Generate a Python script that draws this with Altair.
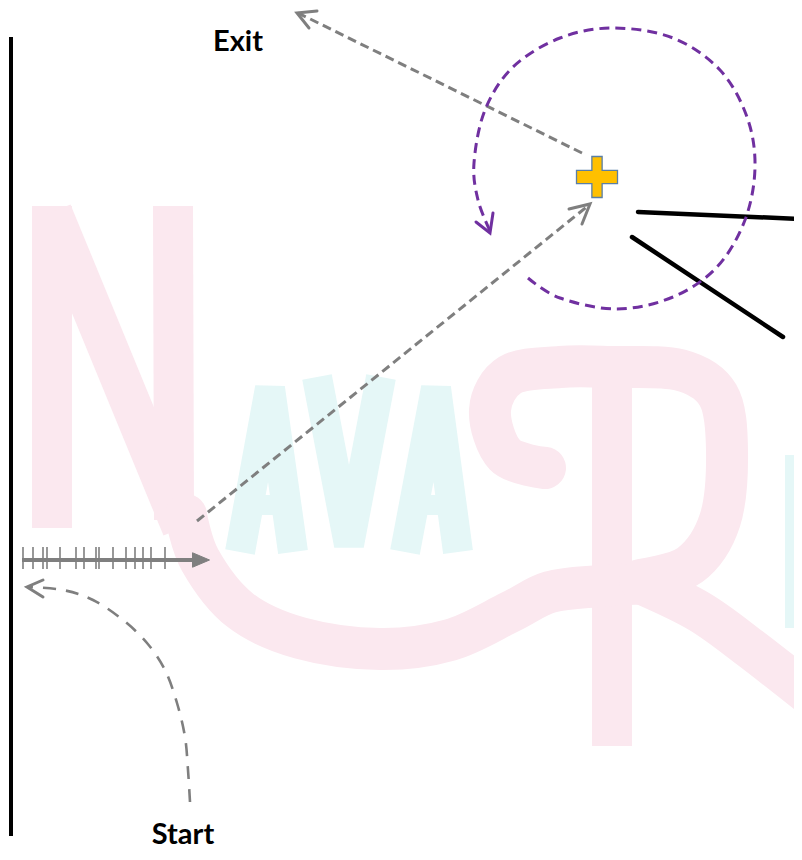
import altair as alt
import pandas as pd

# ---------------- data (positions, in its pixel space) ----------------
# wall
wall_x = [11, 11]
wall_y = [37, 836]

# horizontal ruler arrow with ticks
ruler_x = [22, 195]
ruler_y = [560, 560]
tick_x = [23, 33, 43, 47, 60, 76, 84, 96, 99, 113, 126, 135, 143, 151, 165]
tick_top = [547] * len(tick_x)
tick_bottom = [569] * len(tick_x)
ruler_head_x = [201]
ruler_head_y = [560]

# dashed path from the ruler towards the cross
path_in_x = [197, 589]
path_in_y = [521, 205]
head_in_x = [569, 590, 582]
head_in_y = [209, 204, 224]

# dashed exit path
path_exit_x = [582, 298]
path_exit_y = [153, 13]
head_exit_x = [317, 297, 309]
head_exit_y = [11, 13, 28]

# dashed start curve
start_x = [190, 188, 185, 177, 165, 147, 123, 93, 63, 28]
start_y = [802, 770, 737, 703, 670, 643, 620, 600, 590, 587]
head_start_x = [43, 27, 43]
head_start_y = [580, 587, 597]

# purple rotation arc
arc_x = [528, 560, 617, 673, 717, 745, 755, 747, 720, 673, 613, 560, 513, 485, 474, 478, 490]
arc_y = [278, 298, 309, 297, 267, 220, 167, 117, 70, 38, 28, 38, 67, 110, 163, 200, 231]
head_arc_x = [476, 490, 493]
head_arc_y = [222, 233, 213]

# black lines at right
black_a_x = [638, 802]
black_a_y = [212, 219]
black_b_x = [632, 783]
black_b_y = [237, 337]

# cross marker
cross_x = [597]
cross_y = [177]

# labels
label_text = ["Exit", "Start"]
label_x = [238, 183]
label_y = [51, 844]

# faint watermark strokes
wm_n_stem1_x = [52, 52]
wm_n_stem1_y = [206, 528]
wm_n_diag_x = [52, 182]
wm_n_diag_y = [212, 528]
wm_n_stem2_x = [173, 174]
wm_n_stem2_y = [206, 520]
wm_swash_x = [186, 200, 240, 300, 380, 450, 510, 550, 600, 650]
wm_swash_y = [515, 560, 610, 638, 649, 640, 612, 592, 586, 583]
wm_r_stem_x = [612, 612]
wm_r_stem_y = [379, 746]
wm_r_bowl_x = [545, 505, 490, 510, 560, 612, 680, 718, 727, 720, 690, 640]
wm_r_bowl_y = [468, 455, 410, 375, 367, 367, 370, 395, 450, 520, 565, 580]
wm_r_leg_x = [645, 700, 750, 810]
wm_r_leg_y = [585, 612, 648, 695]
wm_a1_x = [240, 270, 293]
wm_a1_y = [552, 388, 552]
wm_a1_bar_x = [248, 287]
wm_a1_bar_y = [505, 505]
wm_v_x = [317, 349, 381]
wm_v_y = [377, 545, 377]
wm_a2_x = [405, 436, 458]
wm_a2_y = [552, 388, 552]
wm_a2_bar_x = [414, 452]
wm_a2_bar_y = [505, 505]
wm_i_x = [800, 800]
wm_i_y = [455, 628]

# ---------------- helpers ----------------
def frame(*paths):
    rows = []
    for name, xs, ys in paths:
        for i, (x, y) in enumerate(zip(xs, ys)):
            rows.append({"id": name, "i": i, "x": x, "y": y})
    return pd.DataFrame(rows)

# the page keeps an 8px margin, so the plot shows reference pixels 8..794 / 8..852
XS = alt.Scale(domain=[8, 794], nice=False, zero=False)
YS = alt.Scale(domain=[8, 852], nice=False, zero=False, reverse=True)
X = alt.X("x:Q", scale=XS, axis=None)
Y = alt.Y("y:Q", scale=YS, axis=None)


def lines(df, color, width, dash=None, interp=None, cap="round", join="round"):
    kw = dict(color=color, strokeWidth=width, strokeCap=cap, strokeJoin=join, clip=True)
    if dash is not None:
        kw["strokeDash"] = dash
    if interp is not None:
        kw["interpolate"] = interp
    return alt.Chart(df).mark_line(**kw).encode(
        x=X, y=Y, detail="id:N", order="i:Q"
    )


PINK = "#fbe8ef"
CYAN = "#e5f7f7"
GRAY = "#7f7f7f"
PURPLE = "#7030a0"

# watermark
wm_pink_straight = lines(
    frame(("s1", wm_n_stem1_x, wm_n_stem1_y),
          ("d", wm_n_diag_x, wm_n_diag_y),
          ("s2", wm_n_stem2_x, wm_n_stem2_y),
          ("rs", wm_r_stem_x, wm_r_stem_y)),
    PINK, 40, cap="butt", join="miter")
wm_pink_curves = lines(
    frame(("sw", wm_swash_x, wm_swash_y),
          ("bowl", wm_r_bowl_x, wm_r_bowl_y),
          ("leg", wm_r_leg_x, wm_r_leg_y)),
    PINK, 42, interp="cardinal")
wm_cyan = lines(
    frame(("a1", wm_a1_x, wm_a1_y),
          ("v", wm_v_x, wm_v_y),
          ("a2", wm_a2_x, wm_a2_y),
          ("i", wm_i_x, wm_i_y)),
    CYAN, 30, cap="butt", join="bevel")
wm_cyan_bars = lines(
    frame(("b1", wm_a1_bar_x, wm_a1_bar_y),
          ("b2", wm_a2_bar_x, wm_a2_bar_y)),
    CYAN, 20, cap="butt")

# black structure
wall = lines(frame(("wall", wall_x, wall_y)), "#000000", 4, cap="butt")
blacks = lines(frame(("a", black_a_x, black_a_y), ("b", black_b_x, black_b_y)),
               "#000000", 4.5)

# ruler
ruler = lines(frame(("r", ruler_x, ruler_y)), GRAY, 4, cap="butt")
ticks_df = pd.DataFrame({"x": tick_x, "y": tick_top, "y2": tick_bottom})
ticks = alt.Chart(ticks_df).mark_rule(color=GRAY, strokeWidth=1.6).encode(
    x=X, y=Y, y2="y2:Q"
)
ruler_head = alt.Chart(pd.DataFrame({"x": ruler_head_x, "y": ruler_head_y})).mark_point(
    shape="M1,0 L-1,-0.85 L-1,0.85 Z", size=289, filled=True, fill=GRAY,
    stroke=GRAY, strokeWidth=1, opacity=1
).encode(x=X, y=Y)

# dashed gray paths
gray_dashed = lines(
    frame(("in", path_in_x, path_in_y), ("exit", path_exit_x, path_exit_y)),
    GRAY, 3, dash=[9, 5], cap="butt")
start_curve = lines(frame(("start", start_x, start_y)), GRAY, 2.6,
                    dash=[13, 10], interp="cardinal", cap="butt")
gray_heads = lines(
    frame(("h1", head_in_x, head_in_y), ("h2", head_exit_x, head_exit_y),
          ("h3", head_start_x, head_start_y)),
    GRAY, 3, join="miter")

# purple arc
arc = lines(frame(("arc", arc_x, arc_y)), PURPLE, 3, dash=[10, 6],
            interp="cardinal", cap="butt")
arc_head = lines(frame(("ah", head_arc_x, head_arc_y)), PURPLE, 3, join="miter")

# cross
cross = alt.Chart(pd.DataFrame({"x": cross_x, "y": cross_y})).mark_point(
    shape=("M-0.25,-1 L0.25,-1 L0.25,-0.32 L1,-0.32 L1,0.32 L0.25,0.32 L0.25,1 "
           "L-0.25,1 L-0.25,0.32 L-1,0.32 L-1,-0.32 L-0.25,-0.32 Z"),
    size=1681, filled=True, fill="#ffc000", stroke="#5a7fa6", strokeWidth=1.3,
    opacity=1
).encode(x=X, y=Y)

# labels
labels = alt.Chart(pd.DataFrame({"x": label_x, "y": label_y, "t": label_text})).mark_text(
    font="Lato", fontWeight="bold", fontSize=29, color="#000000",
    align="center", baseline="alphabetic"
).encode(x=X, y=Y, text="t:N")

chart = alt.layer(
    wm_pink_straight, wm_pink_curves, wm_cyan, wm_cyan_bars,
    wall, ruler, ticks, ruler_head,
    gray_dashed, start_curve, gray_heads,
    blacks, arc, arc_head, cross, labels
).properties(
    width=786, height=844, padding=0, autosize=alt.AutoSizeParams(type="none"),
    background="#ffffff"
).configure_view(stroke=None)

chart.save("out.html", embed_options={"renderer": "svg", "actions": False})
